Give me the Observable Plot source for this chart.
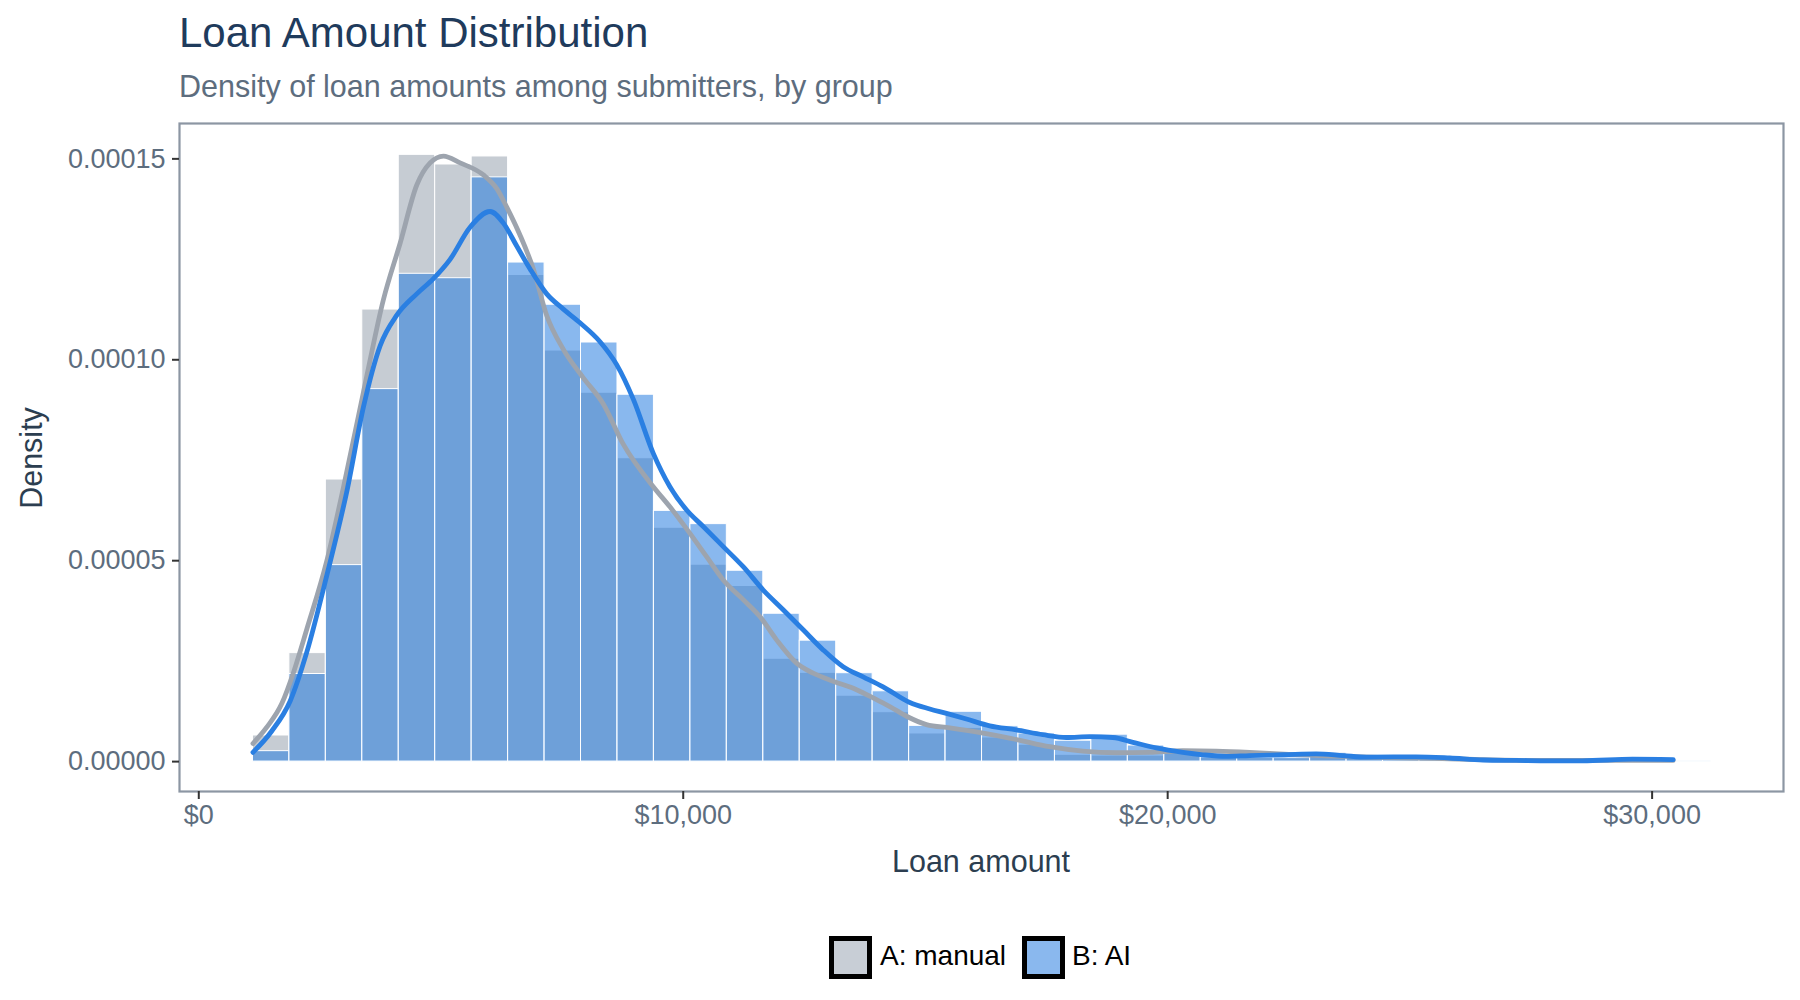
<!DOCTYPE html>
<html>
<head>
<meta charset="utf-8">
<script src="https://cdn.jsdelivr.net/npm/d3@7"></script>
<script src="https://cdn.jsdelivr.net/npm/@observablehq/plot@0.6"></script>
<style>
  html, body { margin: 0; padding: 0; background: #ffffff; }
  #wrap { position: relative; width: 1800px; height: 1000px; font-family: "Liberation Sans", Arial, Helvetica, sans-serif; }
  #chart { position: absolute; left: 0; top: 0; }
  #overlay { position: absolute; left: 0; top: 0; pointer-events: none; }
</style>
</head>
<body>
<div id="wrap">
  <div id="chart"></div>
  <svg id="overlay" width="1800" height="1000" xmlns="http://www.w3.org/2000/svg"
       font-family="'Liberation Sans', Arial, Helvetica, sans-serif">
    <text x="179" y="47" font-size="42" fill="#1f3b5c">Loan Amount Distribution</text>
    <text x="179" y="97" font-size="30.5" fill="#5d6d7e">Density of loan amounts among submitters, by group</text>
    <text x="981" y="872" font-size="30.5" fill="#2c3e50" text-anchor="middle">Loan amount</text>
    <text transform="translate(42,458) rotate(-90)" font-size="30.5" fill="#2c3e50" text-anchor="middle">Density</text>
    <rect x="831.5" y="938.5" width="38" height="38" fill="#c8ced6" stroke="#000" stroke-width="5"/>
    <text x="880" y="965" font-size="28" fill="#000">A: manual</text>
    <rect x="1024.5" y="938.5" width="38" height="38" fill="#8ab8ee" stroke="#000" stroke-width="5"/>
    <text x="1072" y="965" font-size="28" fill="#000">B: AI</text>
  </svg>
</div>
<script>
// ---- data ----
const groups = ["A: manual", "B: AI"];
// histogram bin edges (loan amount, $)
const binEdges = [1118, 1870, 2623, 3375, 4128, 4880, 5633, 6385, 7138, 7890,
  8643, 9395, 10148, 10900, 11653, 12405, 13158, 13910, 14663, 15415,
  16168, 16920, 17673, 18425, 19178, 19930, 20683, 21435, 22188, 22940,
  23693, 24445, 25198, 25950, 26703, 27455, 28208, 28960, 29713, 30465, 31218];
// bar densities, in units of 1e-5
const histA = [0.65, 2.70, 7.02, 11.25, 15.10, 14.86, 15.06, 12.11, 10.23, 9.18,
  7.55, 5.82, 4.90, 4.37, 2.56, 2.21, 1.64, 1.23, 0.70, 0.84,
  0.60, 0.42, 0.17, 0.15, 0.15, 0.28, 0.10, 0.10, 0.08, 0.15,
  0.10, 0.06, 0.08, 0.06, 0.04, 0.03, 0.02, 0.02, 0.02, 0.01];
const histB = [0.26, 2.18, 4.89, 9.27, 12.14, 12.03, 14.54, 12.42, 11.37, 10.43,
  9.13, 6.24, 5.91, 4.75, 3.68, 3.01, 2.20, 1.75, 0.89, 1.24,
  0.88, 0.70, 0.52, 0.67, 0.40, 0.29, 0.11, 0.10, 0.10, 0.22,
  0.14, 0.12, 0.12, 0.08, 0.05, 0.03, 0.02, 0.02, 0.04, 0.01];
// density curves (x in $, y in units of 1e-5)
const kdeAx = [1118, 1400, 1716, 1950, 2231, 2644, 2987, 3400, 3812, 4156, 4500, 4775, 5050, 5394, 5875,
  6151, 6357, 6632, 6906, 7182, 7525, 7937, 8350, 8762, 9382, 9725, 10138, 10482, 10826, 11238,
  11582, 11926, 12339, 12682, 13095, 13577, 13990, 14264, 14641, 15020, 15501, 16188, 16877, 17564,
  18246, 18940, 19627, 20314, 21002, 21690, 22500, 23500, 24500, 25500, 26500, 27500, 28500, 29500, 30435];
const kdeAy = [0.45, 0.85, 1.45, 2.20, 3.30, 5.00, 6.83, 9.20, 11.50, 12.90, 14.35, 14.90, 15.07, 14.90, 14.60,
  14.26, 13.80, 13.10, 12.26, 11.10, 10.26, 9.55, 8.90, 7.90, 6.84, 6.34, 5.68, 5.10, 4.52, 4.03,
  3.61, 3.03, 2.45, 2.20, 2.00, 1.79, 1.54, 1.37, 1.11, 0.92, 0.84, 0.71, 0.55, 0.37,
  0.26, 0.22, 0.23, 0.27, 0.26, 0.23, 0.18, 0.14, 0.10, 0.08, 0.05, 0.03, 0.03, 0.03, 0.03];
const kdeBx = [1118, 1500, 1887, 2231, 2644, 3057, 3400, 3744, 4088, 4500, 4844, 5188, 5600, 6013, 6288,
  6563, 6838, 7182, 7525, 7869, 8282, 8626, 8969, 9382, 9725, 10070, 10413, 10826, 11238, 11651,
  12063, 12476, 12888, 13300, 13713, 14126, 14677, 15089, 15433, 15846, 16327, 16877, 17426, 17908,
  18389, 18870, 19283, 19765, 20314, 20726, 21208, 21690, 22400, 23065, 23614, 24103, 25134, 25822,
  26509, 27200, 27884, 28560, 29595, 30435];
const kdeBy = [0.23, 0.75, 1.51, 2.73, 4.64, 6.73, 8.83, 10.35, 11.11, 11.64, 12.02, 12.50, 13.30, 13.69, 13.40,
  12.83, 12.26, 11.64, 11.26, 10.92, 10.45, 9.88, 9.02, 7.67, 6.84, 6.26, 5.85, 5.35, 4.85, 4.27,
  3.78, 3.28, 2.78, 2.36, 2.11, 1.86, 1.47, 1.31, 1.20, 1.06, 0.89, 0.79, 0.67, 0.60,
  0.62, 0.60, 0.48, 0.34, 0.23, 0.17, 0.13, 0.15, 0.17, 0.19, 0.15, 0.11, 0.12, 0.09,
  0.04, 0.03, 0.02, 0.02, 0.06, 0.05];
const xTicks = [0, 10000, 20000, 30000];
const yTicks = [0, 0.00005, 0.0001, 0.00015];

// ---- tables ----
const UNIT = 1e-5;
const barsA = histA.map((v, i) => ({x1: binEdges[i], x2: binEdges[i + 1], y: v * UNIT, group: groups[0]}));
const barsB = histB.map((v, i) => ({x1: binEdges[i], x2: binEdges[i + 1], y: v * UNIT, group: groups[1]}));
const lineA = kdeAx.map((x, i) => ({x, y: kdeAy[i] * UNIT}));
const lineB = kdeBx.map((x, i) => ({x, y: kdeBy[i] * UNIT}));

const fmtMoney = d3.format(",");
const chart = Plot.plot({
  width: 1800,
  height: 900,
  marginTop: 123,
  marginBottom: 109,
  marginLeft: 179,
  marginRight: 17,
  style: {fontFamily: "'Liberation Sans', Arial, Helvetica, sans-serif", background: "#ffffff", overflow: "visible"},
  x: {domain: [-398, 32712]},
  y: {domain: [-0.00000744, 0.0001588]},
  marks: [
    Plot.rect(barsA, {x1: "x1", x2: "x2", y1: 0, y2: "y", fill: "#c6ccd3", stroke: "#ffffff", strokeWidth: 1}),
    Plot.rect(barsB, {x1: "x1", x2: "x2", y1: 0, y2: "y", fill: "#2178df", fillOpacity: 0.53, stroke: "#ffffff", strokeWidth: 1}),
    Plot.line(lineA, {x: "x", y: "y", stroke: "#9da4ae", strokeWidth: 4.8, curve: "monotone-x"}),
    Plot.line(lineB, {x: "x", y: "y", stroke: "#2a7fe2", strokeWidth: 4.8, curve: "monotone-x"}),
    Plot.frame({stroke: "#8c96a3", strokeWidth: 2.2}),
    Plot.axisX({ticks: xTicks, tickFormat: d => "$" + fmtMoney(d), tickSize: 8, tickPadding: 5,
      fontSize: 27, stroke: "#333333", strokeWidth: 2, fill: "#5d6d7e", label: null}),
    Plot.axisY({ticks: yTicks, tickFormat: d3.format(".5f"), tickSize: 7, tickPadding: 7,
      fontSize: 27, stroke: "#333333", strokeWidth: 2, fill: "#5d6d7e", label: null})
  ]
});
document.getElementById("chart").appendChild(chart);
</script>
</body>
</html>
